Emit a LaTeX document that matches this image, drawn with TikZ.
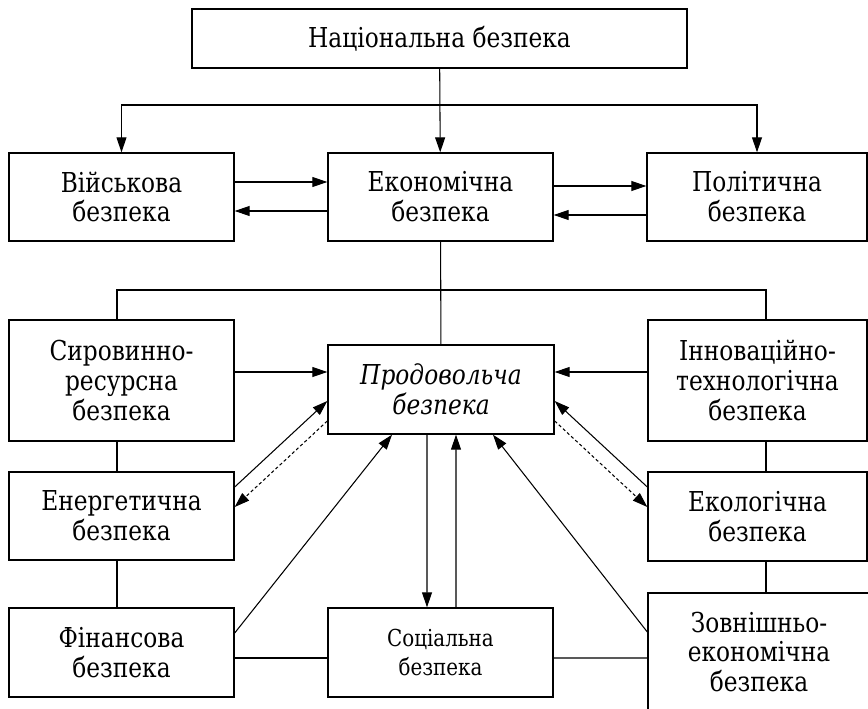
\documentclass[tikz,border=0pt]{standalone}
\usepackage{fontspec}
\setmainfont{DejaVu Serif}[FakeStretch=0.85]
\usetikzlibrary{arrows.meta}

\begin{document}
\begin{tikzpicture}[x=0.02cm,y=-0.02cm,
    box/.style={draw,line width=0.8pt,align=center,inner sep=0pt,minimum width=4.5cm,minimum height=1.76cm,font=\fontsize{15.6}{17}\selectfont},
    link/.style={line width=0.6pt},
    arr/.style={link,-{Triangle[length=0.3cm,width=0.2cm]}},
    back/.style={arr,dash pattern=on 1.8pt off 1.4pt}]
                    \clip (0,0) rectangle (868,709);
                    \node[box,minimum width=9.9cm,minimum height=1.18cm] (nat) at (439.5,38.5) {Національна безпека};
                    \node[box] (mil) at (121.5,197) {Військова\\безпека};
                    \node[box] (eco) at (440.5,197) {Економічна\\безпека};
                    \node[box,minimum width=4.4cm] (pol) at (757,197) {Політична\\безпека};
                    \node[box,minimum height=2.42cm] (raw) at (121.5,380.5) {Сировинно-\\ресурсна\\безпека};
                    \node[box,minimum width=4.52cm,minimum height=1.78cm,font=\fontsize{15.6}{17}\selectfont\itshape] (food) at (441,389.5) {Продовольча\\безпека};
                    \node[box,minimum width=4.38cm,minimum height=2.42cm] (inn) at (757.5,380.5) {Інноваційно-\\технологічна\\безпека};
                    \node[box] (ene) at (121.5,516) {Енергетична\\безпека};
                    \node[box,minimum width=4.38cm,minimum height=1.78cm] (ecl) at (757.5,516.5) {Екологічна\\безпека};
                    \node[box,minimum height=1.78cm] (fin) at (121.5,652.5) {Фінансова\\безпека};
                    \node[box,minimum height=1.78cm,font=\fontsize{13.3}{16.2}\selectfont] (soc) at (440.5,652.5) {Соціальна\\безпека};
                    \node[box,minimum width=4.44cm,minimum height=2.36cm] (ext) at (759,652) {Зовнішньо-\\економічна\\безпека};
                    \coordinate (top) at (440,105);
                    \coordinate (hl) at (117,290);
                    \coordinate (hr) at (766,290);
                    \coordinate (fa) at ([yshift=0.35cm]food.west);
                    \coordinate (fb) at ([yshift=0.35cm]food.east);
                    \draw[arr] (nat) -- (eco);
                    \draw[arr] (top) -| (mil);
                    \draw[arr] (top) -| (pol);
                    \draw[arr] ([yshift=0.3cm]mil.east) -- ([yshift=0.3cm]eco.west);
                    \draw[arr] ([yshift=-0.28cm]eco.west) -- ([yshift=-0.28cm]mil.east);
                    \draw[arr] ([yshift=0.22cm]eco.east) -- ([yshift=0.22cm]pol.west);
                    \draw[arr] ([yshift=-0.36cm]pol.west) -- ([yshift=-0.36cm]eco.east);
                    \draw[link] (eco) -- (food);
                    \draw[link] (raw.north -| hl) -- (hl) -- (hr) -- (inn.north -| hr);
                    \draw[link] (raw.south -| hl) -- (ene.north -| hl);
                    \draw[link] (ene.south -| hl) -- (fin.north -| hl);
                    \draw[link] (inn.south -| hr) -- (ecl.north -| hr);
                    \draw[link] (ecl.south -| hr) -- (ext.north -| hr);
                    \draw[arr] (raw.east |- fa) -- (fa);
                    \draw[arr] (inn.west |- fb) -- (fb);
                    \draw[arr] ([yshift=0.58cm]ene.east) -- ([yshift=-0.23cm]food.west);
                    \draw[back] ([yshift=-0.63cm]food.west) -- ([yshift=0.18cm]ene.east);
                    \draw[arr] ([yshift=0.59cm]ecl.west) -- ([yshift=-0.23cm]food.east);
                    \draw[back] ([yshift=-0.63cm]food.east) -- ([yshift=0.19cm]ecl.west);
                    \draw[arr] ([xshift=-0.28cm]food.south) -- ([xshift=-0.27cm]soc.north);
                    \draw[arr] ([xshift=0.31cm]soc.north) -- ([xshift=0.3cm]food.south);
                    \draw[arr] ([yshift=0.39cm]fin.east) -- ([xshift=-0.98cm]food.south);
                    \draw[arr] ([yshift=0.4cm]ext.west) -- ([xshift=1.04cm]food.south);
                    \draw[link] ([yshift=-0.11cm]fin.east) -- ([yshift=-0.11cm]soc.west);
                    \draw[link] ([yshift=-0.11cm]soc.east) -- ([yshift=-0.12cm]ext.west);
                \end{tikzpicture}
\end{document}
